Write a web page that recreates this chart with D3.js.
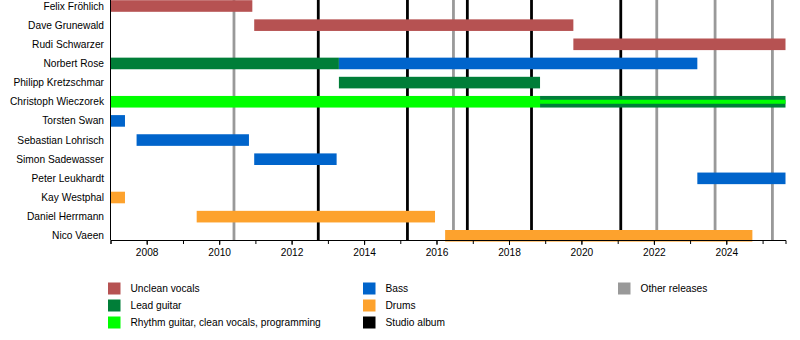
<!DOCTYPE html>
<html>
<head>
<meta charset="utf-8">
<script src="https://cdn.jsdelivr.net/npm/d3@7"></script>
<style>
  html, body { margin: 0; padding: 0; background: #fff; }
  svg { display: block; font-family: "Liberation Sans", Arial, sans-serif; }
</style>
</head>
<body>
<svg id="chart" width="800" height="340"></svg>
<script>
// Band members, top to bottom
const members = [
  "Felix Fröhlich", "Dave Grunewald", "Rudi Schwarzer", "Norbert Rose",
  "Philipp Kretzschmar", "Christoph Wieczorek", "Torsten Swan",
  "Sebastian Lohrisch", "Simon Sadewasser", "Peter Leukhardt",
  "Kay Westphal", "Daniel Herrmann", "Nico Vaeen"
];

// Roles and their legend labels
const roles = ["vocals", "lead", "rhythm", "bass", "drums", "studio", "other"];
const roleLabels = [
  "Unclean vocals", "Lead guitar", "Rhythm guitar, clean vocals, programming",
  "Bass", "Drums", "Studio album", "Other releases"
];

// Tenures: [member, role, from, till]
const tenures = [
  ["Felix Fröhlich", "vocals", "2007-01-01", "2010-12-01"],
  ["Dave Grunewald", "vocals", "2010-12-20", "2019-10-12"],
  ["Rudi Schwarzer", "vocals", "2019-10-12", "2025-08-20"],
  ["Norbert Rose", "lead", "2007-01-01", "2013-04-22"],
  ["Norbert Rose", "bass", "2013-04-22", "2023-03-15"],
  ["Philipp Kretzschmar", "lead", "2013-04-22", "2018-11-10"],
  ["Christoph Wieczorek", "rhythm", "2007-01-01", "2018-11-10"],
  ["Christoph Wieczorek", "lead", "2018-11-10", "2025-08-20"],
  ["Torsten Swan", "bass", "2007-01-01", "2007-05-27"],
  ["Sebastian Lohrisch", "bass", "2007-09-21", "2010-10-28"],
  ["Simon Sadewasser", "bass", "2010-12-20", "2013-03-30"],
  ["Peter Leukhardt", "bass", "2023-03-15", "2025-08-20"],
  ["Kay Westphal", "drums", "2007-01-01", "2007-05-27"],
  ["Daniel Herrmann", "drums", "2009-05-19", "2015-12-17"],
  ["Nico Vaeen", "drums", "2016-03-28", "2024-09-20"]
];

// Secondary roles drawn as a thin stripe inside a bar: [member, role, from, till]
const stripes = [
  ["Christoph Wieczorek", "rhythm", "2018-11-10", "2025-08-20"]
];

// Release dates
const studioAlbums = ["2012-09-26", "2015-03-14", "2016-11-07", "2018-08-16", "2021-02-01"];
const otherReleases = ["2010-05-30", "2016-06-20", "2022-01-30", "2023-09-10", "2025-04-10"];

// Time span and tick labels
const timeSpan = ["2007-01-01", "2025-08-20"];
const tickYears = ["2008", "2010", "2012", "2014", "2016", "2018", "2020", "2022", "2024"];

const colors = {
  vocals: "#B65252",
  lead: "#007E38",
  rhythm: "#00FF00",
  bass: "#0064CB",
  drums: "#FDA22D",
  studio: "#000000",
  other: "#999999"
};

const parse = d3.utcParse("%Y-%m-%d");
const svg = d3.select("#chart");

const plotLeft = 110.5, plotRight = 785.5, plotTop = 0, plotBottom = 240;

const x = d3.scaleUtc()
  .domain(timeSpan.map(parse))
  .range([plotLeft, plotRight]);

const y = d3.scalePoint()
  .domain(members)
  .range([6, 235.8]);

const barH = 11.6;

// Release lines (behind bars)
const lines = svg.append("g");
lines.selectAll("line.other")
  .data(otherReleases)
  .join("line")
  .attr("class", "other")
  .attr("x1", d => x(parse(d))).attr("x2", d => x(parse(d)))
  .attr("y1", plotTop).attr("y2", plotBottom)
  .attr("stroke", colors.other).attr("stroke-width", 2.8);
lines.selectAll("line.studio")
  .data(studioAlbums)
  .join("line")
  .attr("class", "studio")
  .attr("x1", d => x(parse(d))).attr("x2", d => x(parse(d)))
  .attr("y1", plotTop).attr("y2", plotBottom)
  .attr("stroke", colors.studio).attr("stroke-width", 2.8);

// Tenure bars
svg.append("g").selectAll("rect")
  .data(tenures)
  .join("rect")
  .attr("x", d => x(parse(d[2])))
  .attr("width", d => x(parse(d[3])) - x(parse(d[2])))
  .attr("y", d => y(d[0]) - barH / 2)
  .attr("height", barH)
  .attr("fill", d => colors[d[1]]);

// Secondary role stripes
svg.append("g").selectAll("rect")
  .data(stripes)
  .join("rect")
  .attr("x", d => x(parse(d[2])))
  .attr("width", d => x(parse(d[3])) - x(parse(d[2])))
  .attr("y", d => y(d[0]) - 2)
  .attr("height", 4)
  .attr("fill", d => colors[d[1]]);

// Member names
svg.append("g").selectAll("text")
  .data(members)
  .join("text")
  .attr("x", 104)
  .attr("y", d => y(d))
  .attr("dy", "0.35em")
  .attr("text-anchor", "end")
  .attr("font-size", 10.2)
  .attr("fill", "#000")
  .text(d => d);

// Left axis line
svg.append("line")
  .attr("x1", plotLeft).attr("x2", plotLeft)
  .attr("y1", plotTop).attr("y2", plotBottom)
  .attr("stroke", "#000").attr("stroke-width", 1);

// Bottom axis: yearly minor ticks, labelled every two years
const minor = d3.axisBottom(x)
  .ticks(d3.utcYear.every(1))
  .tickSize(4)
  .tickFormat("");
svg.append("g")
  .attr("transform", `translate(0,${plotBottom})`)
  .call(minor)
  .call(g => g.select(".domain").attr("stroke", "#000"));

const major = d3.axisBottom(x)
  .tickValues(tickYears.map(t => parse(t + "-01-01")))
  .tickSize(5)
  .tickPadding(4)
  .tickFormat(d3.utcFormat("%Y"));
svg.append("g")
  .attr("transform", `translate(0,${plotBottom})`)
  .call(major)
  .call(g => g.select(".domain").remove())
  .call(g => g.selectAll("text").attr("font-size", 10.2).attr("font-family", "Liberation Sans, Arial, sans-serif").attr("fill", "#000"));

// Legend in three columns
const legendCols = [[0, 1, 2], [3, 4, 5], [6]];
const colX = [108, 363, 618];
const legend = svg.append("g");
legendCols.forEach((col, ci) => {
  col.forEach((ri, k) => {
    const cy = 288.5 + k * 17;
    legend.append("rect")
      .attr("x", colX[ci]).attr("y", cy - 6)
      .attr("width", 12.5).attr("height", 12)
      .attr("fill", colors[roles[ri]]);
    legend.append("text")
      .attr("x", colX[ci] + 22.5).attr("y", cy)
      .attr("dy", "0.35em")
      .attr("font-size", 10.2)
      .attr("fill", "#000")
      .text(roleLabels[ri]);
  });
});
</script>
</body>
</html>
